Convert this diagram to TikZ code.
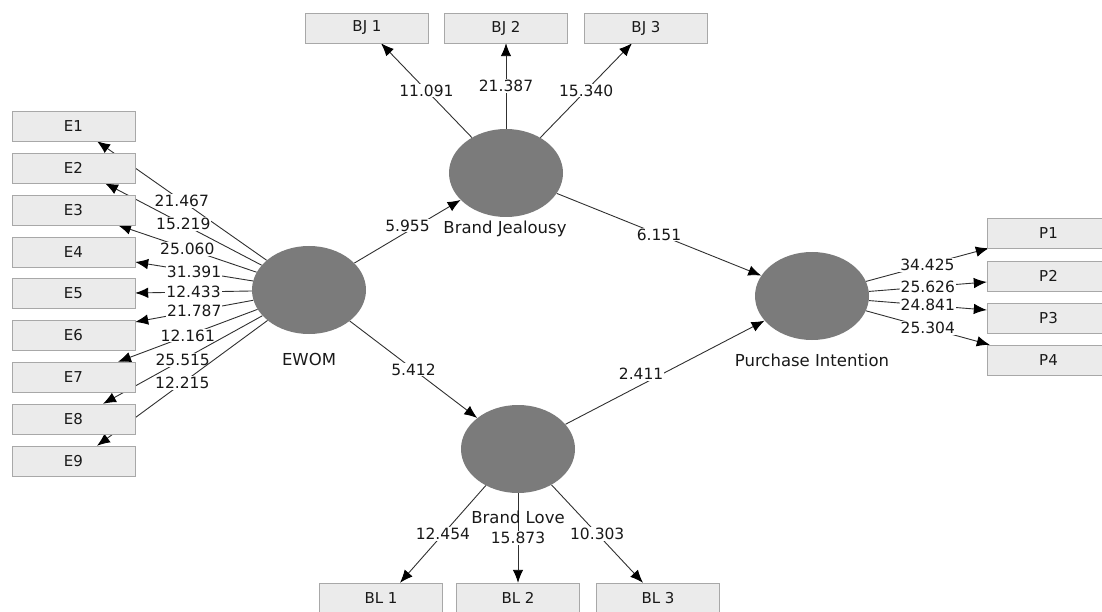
\documentclass[tikz,border=0pt]{standalone}
\usepackage{fontspec}
\setmainfont{DejaVu Sans}
\usetikzlibrary{shapes.geometric, arrows.meta, backgrounds}

\definecolor{boxfill}{HTML}{EBEBEB}
\definecolor{boxline}{HTML}{A8A8A8}
\definecolor{latentfill}{HTML}{7B7B7B}
\definecolor{linegray}{HTML}{303030}

\begin{document}
\begin{tikzpicture}[
  x=1pt, y=-1pt,
  every node/.style={font=\fontsize{15}{17}\selectfont, text=black!90},
  indicator/.style={rectangle, draw=boxline, fill=boxfill, minimum width=123pt, minimum height=30pt, inner sep=0pt},
  latent/.style={ellipse, fill=latentfill, minimum width=114pt, minimum height=88pt, inner sep=0pt},
  caption/.style={font=\fontsize{16.5}{18}\selectfont},
  weight/.style={fill=white, inner sep=1pt, font=\fontsize{15.5}{17}\selectfont},
  arrow/.style={-{Latex[length=13pt,width=10.5pt,color=black]}, draw=linegray, line width=0.9pt}
]
\useasboundingbox (0,0) rectangle (1102,612);

% latent variables
\node[latent] (EWOM) at (309,290) {};
\node[latent] (BJ) at (506,173) {};
\node[latent] (PI) at (812,296) {};
\node[latent] (BL) at (518,449) {};

\node[caption] (ewomText) at (309,359) {EWOM};
\node[caption] (bjText) at (505,229) {Brand Jealousy};
\node[caption] (piText) at (812,360) {Purchase Intention};
\node[caption] (blText) at (518,517) {Brand Love};

% indicators
\foreach \i/\y in {1/126, 2/168, 3/210, 4/252, 5/293, 6/335, 7/377, 8/419, 9/461}
  \node[indicator] (E\i) at (73.5,\y) {E\i};

\node[indicator] (BJ1) at (367,28) {BJ 1};
\node[indicator] (BJ2) at (506,28) {BJ 2};
\node[indicator] (BJ3) at (646,28) {BJ 3};

\node[indicator] (BL1) at (381,598) {BL 1};
\node[indicator] (BL2) at (518,598) {BL 2};
\node[indicator] (BL3) at (658,598) {BL 3};

\node[indicator] (P1) at (1048.5,233) {P1};
\node[indicator] (P2) at (1048.5,276) {P2};
\node[indicator] (P3) at (1048.5,318) {P3};
\node[indicator] (P4) at (1048.5,360) {P4};

% Arrows (behind the boxes)
\begin{scope}[on background layer]
\draw[arrow] (EWOM) -- ([xshift=23.5pt]E1.south) node[weight, pos=0.5] {21.467};
\draw[arrow] (EWOM) -- ([xshift=31.5pt]E2.south) node[weight, pos=0.5] {15.219};
\draw[arrow] (EWOM) -- ([xshift=44.5pt]E3.south) node[weight, pos=0.5] {25.060};
\draw[arrow] (EWOM) -- ([yshift=-10pt]E4.east) node[weight, pos=0.5] {31.391};
\draw[arrow] (EWOM) -- (E5.east) node[weight, pos=0.5] {12.433};
\draw[arrow] (EWOM) -- ([yshift=13pt]E6.east) node[weight, pos=0.5] {21.787};
\draw[arrow] (EWOM) -- ([xshift=44.5pt]E7.north) node[weight, pos=0.5] {12.161};
\draw[arrow] (EWOM) -- ([xshift=29.5pt]E8.north) node[weight, pos=0.5] {25.515};
\draw[arrow] (EWOM) -- ([xshift=23.5pt]E9.north) node[weight, pos=0.5] {12.215};

\draw[arrow] (BJ) -- ([xshift=14pt]BJ1.south) node[weight, pos=0.5] {11.091};
\draw[arrow] (BJ) -- (BJ2.south) node[weight, pos=0.5] {21.387};
\draw[arrow] (BJ) -- ([xshift=-14pt]BJ3.south) node[weight, pos=0.5] {15.340};

\draw[arrow] (BL) -- ([xshift=19pt]BL1.north) node[weight, pos=0.5] {12.454};
\draw[arrow] (BL) -- (BL2.north) node[weight, pos=0.5] {15.873};
\draw[arrow] (BL) -- ([xshift=-15pt]BL3.north) node[weight, pos=0.5] {10.303};

\draw[arrow] (PI) -- ([xshift=2pt]P1.south west) node[weight, pos=0.5] {34.425};
\draw[arrow] (PI) -- ([yshift=-6pt]P2.west) node[weight, pos=0.5] {25.626};
\draw[arrow] (PI) -- ([yshift=8pt]P3.west) node[weight, pos=0.5] {24.841};
\draw[arrow] (PI) -- ([xshift=3pt]P4.north west) node[weight, pos=0.5] {25.304};

% structural paths
\draw[arrow] (EWOM) -- (BJ) node[weight, pos=0.5, yshift=6pt] {5.955};
\draw[arrow] (BJ) -- (PI) node[weight, pos=0.5] {6.151};
\draw[arrow] (EWOM) -- (BL) node[weight, pos=0.5] {5.412};
\draw[arrow] (BL) -- (PI) node[weight, pos=0.38, yshift=11pt] {2.411};
\end{scope}

\end{tikzpicture}
\end{document}
